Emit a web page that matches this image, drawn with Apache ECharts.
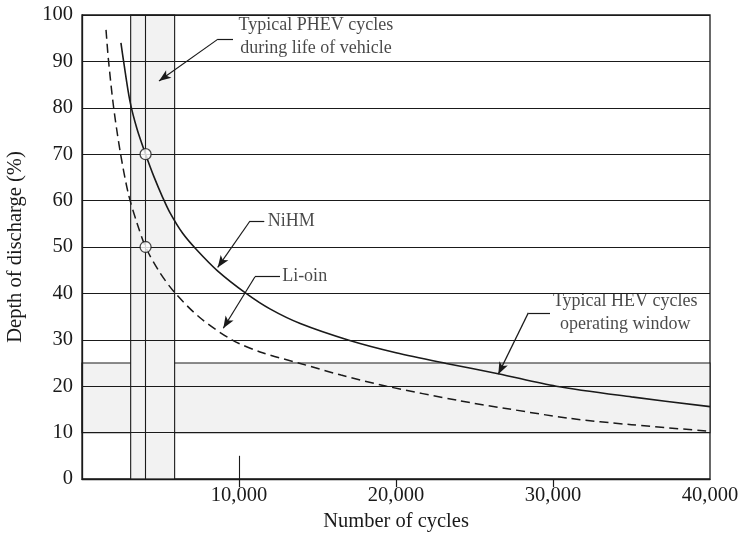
<!DOCTYPE html>
<html>
<head>
<meta charset="utf-8">
<script src="https://cdn.jsdelivr.net/npm/echarts@6/dist/echarts.min.js"></script>
<style>html,body{margin:0;padding:0;background:#fff}#c{width:741px;height:541px}</style>
</head>
<body>
<div id="c"></div>
<script>
// ---- data ----
const nihmCycles = [2480, 2650, 3050, 3500, 4050, 4600, 5150, 5600, 6400, 7300, 8650, 10450, 12000, 13900, 17000, 20000, 23200, 26500, 30200, 35000, 40000];
const nihmDod    = [94, 90, 81.5, 75.5, 70, 65, 60.6, 57.4, 53, 49.4, 44.8, 40, 36.6, 33.5, 29.9, 27.2, 24.9, 22.7, 20, 17.7, 15.6];
const lionCycles = [1530, 1680, 2000, 2420, 2950, 3500, 4050, 4900, 5900, 7500, 9550, 11500, 13900, 16500, 19400, 24000, 27000, 31000, 35000, 40000];
const lionDod    = [96.8, 90.5, 80.5, 70.8, 61.5, 55.2, 50, 44.8, 40.2, 34.8, 30, 27.2, 24.9, 22.4, 20, 16.9, 15.2, 13.1, 11.7, 10.3];
const markerCycles = [4050, 4050];
const markerDod    = [70, 50];
const phevWindow = [3100, 5900];      // cycles
const phevMid = 4050;                 // cycles
const hevWindow = [10, 25];           // depth of discharge %
const xTicks = [10000, 20000, 30000, 40000];
const yTicks = [0, 10, 20, 30, 40, 50, 60, 70, 80, 90, 100];

const FONT = 'Liberation Serif';
const FS = 20.5;   // axis text
const NS = 18;     // annotation text
const INK = '#1a1a1a';

const zip = (a, b) => a.map((v, i) => [v, b[i]]);

// annotation anchors (data coordinates)
const notes = [
  { text: 'Typical PHEV cycles\nduring life of vehicle', at: [14900, 95.3], pos: 'inside', align: 'center',
    lead: [[9618, 94.8], [8662, 94.8], [4904, 85.8]] },
  { text: 'NiHM', at: [11700, 55.5], pos: 'right', align: 'left',
    lead: [[11611, 55.6], [10701, 55.6], [8643, 45.6]] },
  { text: 'Li-oin', at: [12620, 43.6], pos: 'right', align: 'left',
    lead: [[12611, 43.6], [11019, 43.6], [9000, 32.5]] },
  { text: 'Typical HEV cycles\noperating window', at: [34600, 35.8], pos: 'inside', align: 'center',
    lead: [[29809, 35.8], [28427, 35.8], [26516, 22.6]] }
];

const leaderLines = [];
notes.forEach(n => {
  leaderLines.push([{ coord: n.lead[0], symbol: 'none' }, { coord: n.lead[1], symbol: 'none' }]);
  leaderLines.push([{ coord: n.lead[1], symbol: 'none' }, { coord: n.lead[2], symbol: 'arrow' }]);
});

const chart = echarts.init(document.getElementById('c'), null, { renderer: 'canvas' });
chart.setOption({
  animation: false,
  backgroundColor: '#fff',
  textStyle: { fontFamily: FONT, color: INK },
  grid: { left: 82, top: 15, right: 31, bottom: 62, outerBoundsMode: 'none', containLabel: false,
    show: true, borderColor: INK, borderWidth: 1.3, backgroundColor: 'transparent' },
  xAxis: {
    type: 'value', min: 0, max: 40000, interval: 10000, z: 2,
    name: 'Number of cycles', nameLocation: 'middle', nameGap: 31,
    nameTextStyle: { fontFamily: FONT, fontSize: FS, color: INK },
    axisLine: { show: true, lineStyle: { color: INK, width: 1.3 } },
    axisTick: { show: true, length: 8, customValues: [10000, 20000, 30000], lineStyle: { color: INK, width: 1.2 } },
    axisLabel: { customValues: xTicks, margin: 6, fontFamily: FONT, fontSize: FS, color: INK,
      formatter: v => v.toLocaleString('en-US') },
    splitLine: { show: false }
  },
  yAxis: {
    type: 'value', min: 0, max: 100, interval: 10, z: 2,
    name: 'Depth of discharge (%)', nameLocation: 'middle', nameGap: 56, nameRotate: 90,
    nameTextStyle: { fontFamily: FONT, fontSize: FS, color: INK },
    axisLine: { show: true, lineStyle: { color: INK, width: 1.3 } },
    axisTick: { show: false },
    axisLabel: { customValues: yTicks, margin: 9, fontFamily: FONT, fontSize: FS, color: INK },
    splitLine: { show: true, lineStyle: { color: INK, width: 1.1 } }
  },
  series: [
    {
      name: 'bands', type: 'line', data: [], z: 1,
      markArea: {
        silent: true, z: 1,
        itemStyle: { color: '#f2f2f2', borderColor: INK, borderWidth: 1.1 },
        data: [
          [{ coord: [0, hevWindow[0]] }, { coord: [40000, hevWindow[1]] }],
          [{ coord: [phevWindow[0], 0] }, { coord: [phevWindow[1], 100] }]
        ]
      },
      markLine: {
        silent: true, z: 3, symbol: 'none', label: { show: false },
        lineStyle: { color: INK, width: 1.1, type: 'solid' },
        data: [
          [{ coord: [phevMid, 0] }, { coord: [phevMid, 100] }],
          [{ coord: [10000, 0] }, { coord: [10000, 5] }]
        ]
      }
    },
    {
      name: 'NiHM', type: 'line', z: 3, data: zip(nihmCycles, nihmDod),
      showSymbol: false, smooth: 0.3,
      lineStyle: { color: INK, width: 1.6, type: 'solid' }
    },
    {
      name: 'Li-ion', type: 'line', z: 3, data: zip(lionCycles, lionDod),
      showSymbol: false, smooth: 0.3,
      lineStyle: { color: INK, width: 1.5, type: [9, 5] }
    },
    {
      name: 'markers', type: 'scatter', z: 4, data: zip(markerCycles, markerDod),
      symbol: 'circle', symbolSize: 11,
      itemStyle: { color: '#fff', borderColor: INK, borderWidth: 1.3 }
    },
    {
      name: 'notes', type: 'scatter', z: 5, symbolSize: 0,
      data: notes.map(n => ({ value: n.at, name: n.text,
        label: { show: true, position: n.pos, distance: 2, align: n.align, formatter: n.text,
          fontFamily: FONT, fontSize: NS, color: INK, lineHeight: 23 } })),
      markLine: {
        silent: true, z: 5, symbol: ['none', 'arrow'], symbolSize: [7, 12], label: { show: false },
        lineStyle: { color: INK, width: 1.2, type: 'solid' },
        data: leaderLines
      }
    }
  ]
});
</script>
</body>
</html>
